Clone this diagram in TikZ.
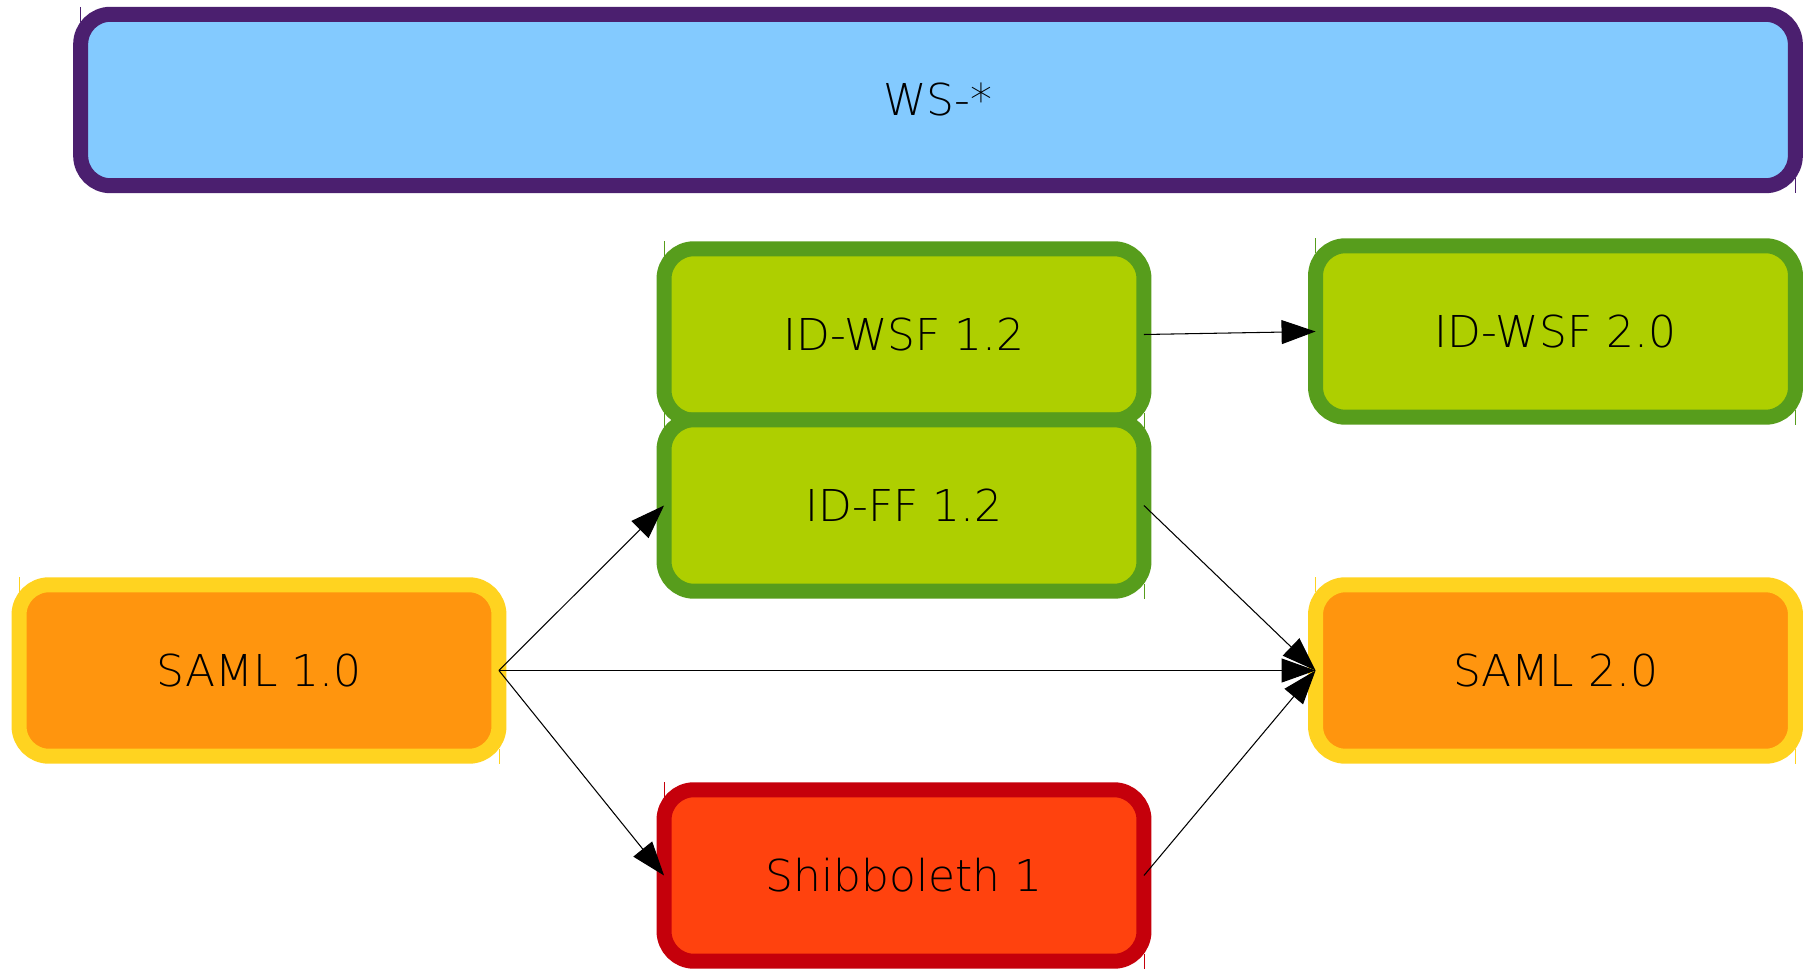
\documentclass[tikz,border=0pt]{standalone}
\usepackage{fontspec}
\setmainfont{DejaVu Sans ExtraLight}
\usetikzlibrary{arrows.meta,backgrounds}

\definecolor{wsfill}{HTML}{83CAFF}
\definecolor{wsline}{HTML}{4B1F6F}
\definecolor{libfill}{HTML}{AECF00}
\definecolor{libline}{HTML}{579D1C}
\definecolor{samlfill}{HTML}{FF950E}
\definecolor{samlline}{HTML}{FFD320}
\definecolor{shibfill}{HTML}{FF420E}
\definecolor{shibline}{HTML}{C5000B}

\tikzset{
  spec/.style={draw, rectangle, rounded corners=0.6cm, line width=0.3cm,
    minimum width=9.6cm, minimum height=3.43cm, inner sep=0pt, outer sep=0pt,
    font=\fontsize{25}{30}\selectfont},
  wsbox/.style={spec, draw=wsline, fill=wsfill, minimum width=34.3cm},
  libbox/.style={spec, draw=libline, fill=libfill},
  samlbox/.style={spec, draw=samlline, fill=samlfill},
  shibbox/.style={spec, draw=shibline, fill=shibfill},
  evolve/.style={-{Triangle[length=0.68cm,width=0.48cm]}, line width=0.6pt},
  tick/.style={line width=0.5pt}
}

\begin{document}
\begin{tikzpicture}[x=0.02cm,y=-0.02cm]
  \useasboundingbox (0,0) rectangle (1812,969);

  \node[wsbox]   (ws)      at (938,100)     {WS-*};
  \node[libbox]  (idwsf12) at (904,334.5)   {ID-WSF 1.2};
  \node[libbox]  (idff12)  at (904,505.5)   {ID-FF 1.2};
  \node[libbox]  (idwsf20) at (1555.5,331.5) {ID-WSF 2.0};
  \node[samlbox] (saml10)  at (259,670.5)   {SAML 1.0};
  \node[samlbox] (saml20)  at (1555.5,670.5) {SAML 2.0};
  \node[shibbox] (shib1)   at (904,875.5)   {Shibboleth 1};

  % little marks in the corners
  \begin{scope}[on background layer]
    \foreach \n/\c in {ws/wsline, idwsf12/libline, idff12/libline, idwsf20/libline,
                       saml10/samlline, saml20/samlline, shib1/shibline} {
      \draw[tick, \c] ([yshift=0.15cm]\n.north west) -- ([yshift=-0.15cm]\n.north west);
      \draw[tick, \c] ([yshift=0.15cm]\n.south east) -- ([yshift=-0.15cm]\n.south east);
    }
  \end{scope}

  \draw[evolve] (saml10.east) -- (idff12.west);
  \draw[evolve] (saml10.east) -- (saml20.west);
  \draw[evolve] (saml10.east) -- (shib1.west);
  \draw[evolve] (idwsf12.east) -- (idwsf20.west);
  \draw[evolve] (idff12.east) -- (saml20.west);
  \draw[evolve] (shib1.east) -- (saml20.west);
\end{tikzpicture}
\end{document}
